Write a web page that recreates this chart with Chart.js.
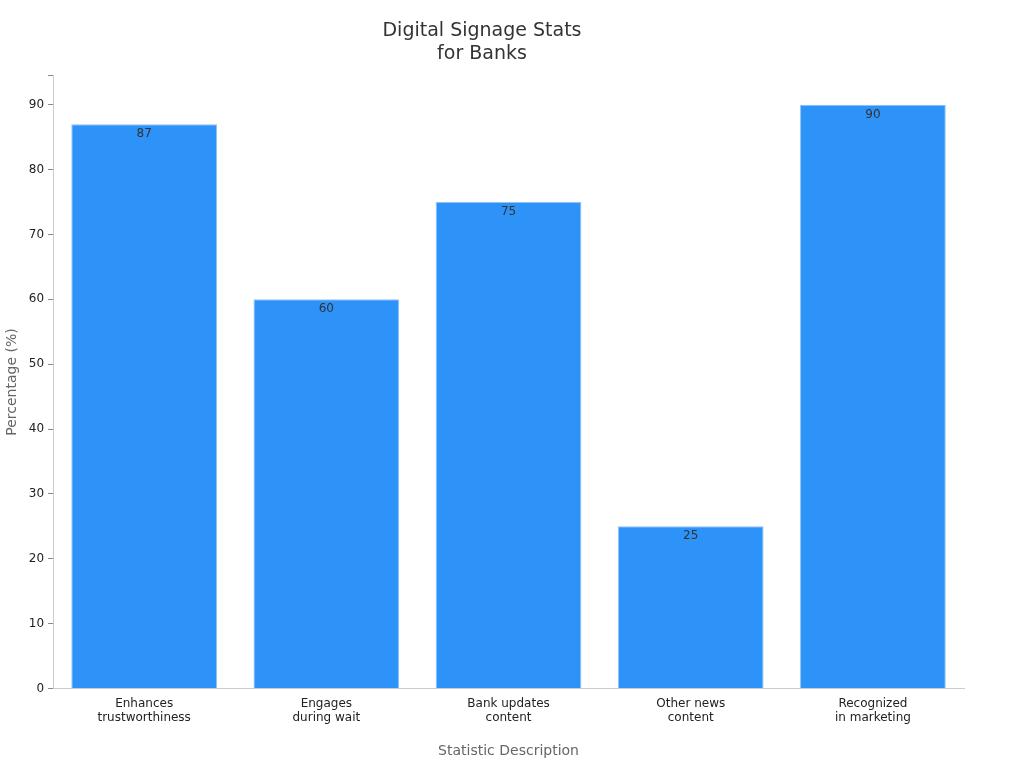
<!DOCTYPE html>
<html><head><meta charset="utf-8">
<script src="https://cdn.jsdelivr.net/npm/chart.js@4"></script>
<style>html,body{margin:0;padding:0;background:#fff}#w{width:1024px;height:768px}</style>
</head><body><div id="w"><canvas id="c"></canvas></div>
<script>
const categories = [["Enhances","trustworthiness"],["Engages","during wait"],["Bank updates","content"],["Other news","content"],["Recognized","in marketing"]];
const values = [87, 60, 75, 25, 90];
const titleLines = ["Digital Signage Stats","for Banks"];

const labelPlugin = {
  id: 'vals',
  afterDatasetsDraw(chart) {
    const ctx = chart.ctx;
    const meta = chart.getDatasetMeta(0);
    ctx.save();
    ctx.font = '12px "DejaVu Sans"';
    ctx.fillStyle = '#333';
    ctx.textAlign = 'center';
    ctx.textBaseline = 'top';
    meta.data.forEach((bar, i) => ctx.fillText(String(values[i]), bar.x, bar.y + 4));
    ctx.restore();
  }
};

Chart.defaults.font.family = '"DejaVu Sans", sans-serif';
new Chart(document.getElementById('c'), {
  type: 'bar',
  data: { labels: categories, datasets: [{ data: values, backgroundColor: '#2e93f8', borderColor: '#8ec3f5', borderWidth: 1, barPercentage: 0.8, categoryPercentage: 1 }] },
  options: {
    responsive: true, maintainAspectRatio: false, animation: false,
    layout: { padding: { left: 0, right: 60, top: 10, bottom: 4 } },
    plugins: {
      legend: { display: false }, tooltip: { enabled: false },
      title: { display: true, text: titleLines, color: '#333', font: { size: 19, weight: 'normal' }, padding: { top: 10, bottom: 10 } }
    },
    scales: {
      x: {
        grid: { display: false, drawTicks: false },
        border: { color: '#ccc' },
        ticks: { color: '#222', font: { size: 12 }, padding: 8 },
        title: { display: true, text: 'Statistic Description', color: '#666', font: { size: 14 }, padding: { top: 10 } }
      },
      y: {
        min: 0, max: 94.5,
        grid: { display: true, drawOnChartArea: false, tickLength: 5, color: '#888' },
        border: { color: '#ccc' },
        ticks: { stepSize: 10, color: '#222', font: { size: 12 }, padding: 4, callback: v => v % 10 === 0 ? v : '' },
        title: { display: true, text: 'Percentage (%)', color: '#666', font: { size: 14 } }
      }
    }
  },
  plugins: [labelPlugin]
});
</script></body></html>
